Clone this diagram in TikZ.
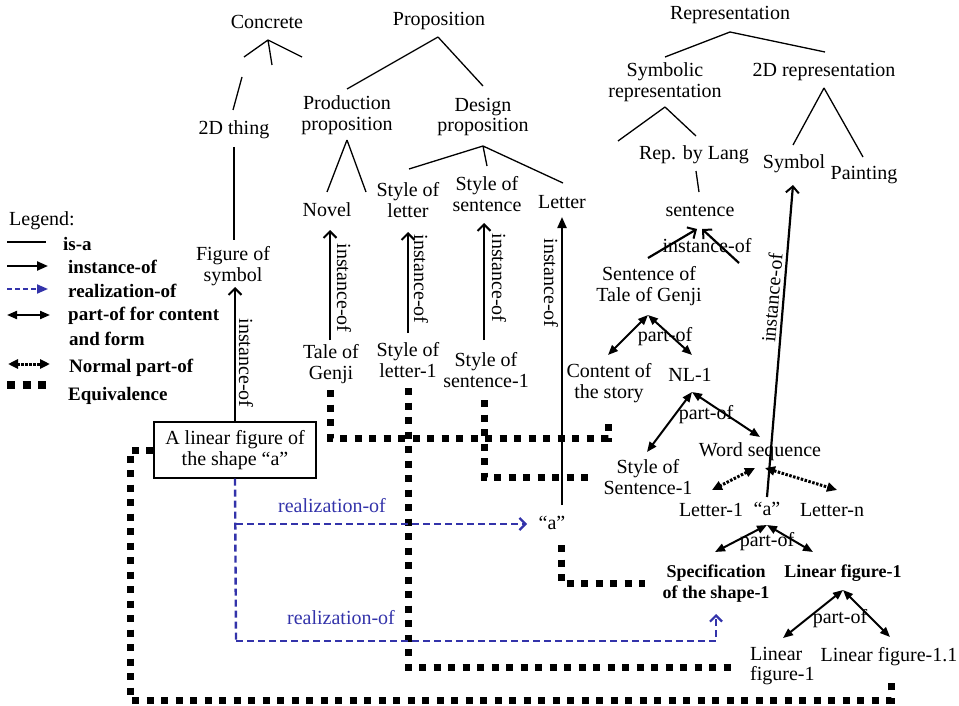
\documentclass[tikz,border=0pt]{standalone}
\usepackage{fontspec}
\setmainfont{Liberation Serif}
\usetikzlibrary{arrows.meta}
\definecolor{rblue}{RGB}{51,51,170}
\begin{document}
\begin{tikzpicture}[x=1pt,y=-1pt,
  every node/.style={font=\fontsize{20}{20.5}\selectfont, inner sep=0pt, align=center},
  boldtxt/.style={font=\fontsize{18}{21}\selectfont\bfseries},
  legtxt/.style={anchor=west, font=\fontsize{19}{19}\selectfont\bfseries},
  isa/.style={line width=1.3pt},
  inst/.style={line width=2.2pt, -{Straight Barb[length=6.5pt,width=13pt,line width=2pt]}},
  instf/.style={line width=2.2pt, -{Triangle[length=11pt,width=9pt]}},
  partof/.style={line width=2pt, {Triangle[length=10pt,width=8pt]}-{Triangle[length=10pt,width=8pt]}},
  npartof/.style={line width=3pt, dash pattern=on 2.5pt off 1.5pt, {Triangle[length=10pt,width=9pt]}-{Triangle[length=10pt,width=9pt]}},
  equiv/.style={line width=7pt, dash pattern=on 7pt off 7.5pt},
  bluedash/.style={rblue, line width=2.4pt, dash pattern=on 7pt off 4pt},
  real/.style={bluedash, -{Straight Barb[length=6pt,width=12pt,line width=2.2pt]}},
  rlabel/.style={text=rblue},
]
\useasboundingbox (0,0) rectangle (959,706);

% ---------- text nodes ----------
\node (concrete) at (267,22) {Concrete};
\node (prop) at (439,21) {Proposition};
\node (repr) at (730,15) {Representation};
\node (symrep) at (665,82) {Symbolic\\representation};
\node (tdrep) at (824,72) {2D representation};
\node (replang) at (694,155) {Rep. by Lang};
\node (symbol) at (794,164) {Symbol};
\node (painting) at (864,175) {Painting};
\node (sentence) at (700,211) {sentence};
\node (sotg) at (649,286) {Sentence of\\Tale of Genji};
\node (content) at (609,383) {Content of\\the story};
\node (nl) at (690,375) {NL-1};
\node (sos1) at (648,477) {Style of\\Sentence-1};
\node (words) at (760,452) {Word sequence};
\node (letter1) at (711,510) {Letter-1};
\node (aq) at (767,509) {“a”};
\node (lettern) at (832,510) {Letter-n};
\node[boldtxt] (spec) at (716,584) {Specification\\of the shape-1};
\node[boldtxt] (lf1) at (843,573) {Linear figure-1};
\node[align=left,anchor=west] (lfb) at (750,666) {Linear\\figure-1};
\node (lf11) at (889,657) {Linear figure-1.1};
\node (tdthing) at (234,130) {2D thing};
\node (figsym) at (233,266) {Figure of\\symbol};
\node (prodprop) at (347,115) {Production\\proposition};
\node (desprop) at (483,117) {Design\\proposition};
\node (novel) at (327,210) {Novel};
\node (styleletter) at (408,200) {Style of\\letter};
\node (stylesent) at (487,194) {Style of\\sentence};
\node (letter) at (562,202) {Letter};
\node (tog) at (331,364) {Tale of\\Genji};
\node (sl1) at (408,360) {Style of\\letter-1};
\node (ss1) at (486,370) {Style of\\sentence-1};
\node[draw, line width=1.3pt, minimum width=162pt, minimum height=56pt] (box) at (235,450) {A linear figure of\\the shape “a”};
\node (amid) at (552,523) {“a”};

% ---------- legend ----------
\node[anchor=west] (leg) at (9,221) {Legend:};
\node[legtxt] (lisa) at (63,244) {is-a};
\node[legtxt] (linst) at (68,267) {instance-of};
\node[legtxt] (lreal) at (68,291) {realization-of};
\node[legtxt] (lpart) at (68,316) {part-of for content};
\node[legtxt] (lpart2) at (69,339) {and form};
\node[legtxt] (lnpart) at (69,368) {Normal part-of};
\node[legtxt] (lequiv) at (68,396) {Equivalence};
\coordinate (la1) at (7,242); \coordinate (lb1) at (46,242);
\coordinate (la2) at (7,266); \coordinate (lb2) at (48,266);
\coordinate (la3) at (7,289); \coordinate (lb3) at (48,289);
\coordinate (la4) at (7,315); \coordinate (lb4) at (50,315);
\coordinate (la5) at (8,364); \coordinate (lb5) at (50,364);
\coordinate (la6) at (7,385); \coordinate (lb6) at (47,385);
\draw[isa] (la1) -- (lb1);
\draw[line width=2.2pt, -{Triangle[length=11pt,width=9pt]}] (la2) -- (lb2);
\draw[rblue, line width=2pt, dash pattern=on 5pt off 3pt, -{Triangle[length=11pt,width=9pt]}] (la3) -- (lb3);
\draw[partof] (la4) -- (lb4);
\draw[npartof] (la5) -- (lb5);
\draw[line width=8pt, dash pattern=on 8pt off 7.5pt] (la6) -- (lb6);

% ---------- is-a tree lines ----------
\coordinate (cA) at (268,40);
\coordinate (c1) at (244,57); \coordinate (c2) at (272,65); \coordinate (c3) at (302,57);
\draw[isa] (cA) -- (c1) (cA) -- (c2) (cA) -- (c3);
\coordinate (c4) at (242,77); \coordinate (c5) at (233,110);
\draw[isa] (c4) -- (c5);
\coordinate (t1) at (234,147); \coordinate (t2) at (234,240);
\draw[isa] (t1) -- (t2);
\coordinate (pA) at (438,37);
\coordinate (p1) at (347,89); \coordinate (p2) at (483,86);
\draw[isa] (pA) -- (p1) (pA) -- (p2);
\coordinate (ppA) at (347,140);
\coordinate (pp1) at (327,192); \coordinate (pp2) at (366,192);
\draw[isa] (ppA) -- (pp1) (ppA) -- (pp2);
\coordinate (dA) at (483,146);
\coordinate (d1) at (409,169); \coordinate (d2) at (487,166); \coordinate (d3) at (563,183);
\draw[isa] (dA) -- (d1) (dA) -- (d2) (dA) -- (d3);
\coordinate (rA) at (730,32);
\coordinate (r1) at (665,57); \coordinate (r2) at (825,52);
\draw[isa] (rA) -- (r1) (rA) -- (r2);
\coordinate (sA) at (665,107);
\coordinate (s1) at (618,141); \coordinate (s2) at (696,136);
\draw[isa] (sA) -- (s1) (sA) -- (s2);
\coordinate (lg1) at (696,171); \coordinate (lg2) at (699,192);
\draw[isa] (lg1) -- (lg2);
\coordinate (tA) at (824,88);
\coordinate (tr1) at (793,145); \coordinate (tr2) at (863,157);
\draw[isa] (tA) -- (tr1) (tA) -- (tr2);

% ---------- equivalence ----------
\coordinate (e1a) at (330,390); \coordinate (e1b) at (330,438);
\coordinate (e1c) at (608,438); \coordinate (e1d) at (608,418);
\draw[equiv] (e1a) -- (e1b) -- (e1c) -- (e1d);
\coordinate (e2a) at (408,388); \coordinate (e2b) at (408,667); \coordinate (e2c) at (737,667);
\draw[equiv] (e2a) -- (e2b) -- (e2c);
\coordinate (e3a) at (484,400); \coordinate (e3b) at (484,477); \coordinate (e3c) at (592,477);
\draw[equiv] (e3a) -- (e3b) -- (e3c);
\coordinate (e4a) at (561,545); \coordinate (e4b) at (561,583); \coordinate (e4c) at (645,583);
\draw[equiv] (e4a) -- (e4b) -- (e4c);
\coordinate (e5a) at (130,450); \coordinate (e5b) at (130,700);
\coordinate (e5c) at (891,700); \coordinate (e5d) at (891,677);
\draw[equiv] (box.west |- e5a) -- (e5a) -- (e5b) -- (e5c) -- (e5d);

% ---------- instance-of ----------
\coordinate (if1) at (235,287);
\draw[inst] (box.north) -- (if1);
\node[rotate=-90] at (246,363) {instance-of};
\coordinate (in1) at (330,340); \coordinate (in2) at (330,230);
\draw[inst] (in1) -- (in2);
\node[rotate=-90] at (344,288) {instance-of};
\coordinate (isl1) at (408,333); \coordinate (isl2) at (408,232);
\draw[inst] (isl1) -- (isl2);
\node[rotate=-90] at (421,279) {instance-of};
\coordinate (iss1) at (484,340); \coordinate (iss2) at (484,223);
\draw[inst] (iss1) -- (iss2);
\node[rotate=-90] at (499,278) {instance-of};
\coordinate (il1) at (562,505); \coordinate (il2) at (562,217);
\draw[instf] (il1) -- (il2);
\node[rotate=-90] at (551,283) {instance-of};
\coordinate (isy1) at (767,497); \coordinate (isy2) at (793,185);
\draw[inst] (isy1) -- (isy2);
\node[rotate=85] at (772,298) {instance-of};
\coordinate (ise1) at (648,258); \coordinate (ise2) at (697,229);
\coordinate (ise3) at (739,263); \coordinate (ise4) at (702,229);
\draw[inst] (ise1) -- (ise2);
\draw[inst] (ise3) -- (ise4);
\node at (707,246) {instance-of};

% ---------- part-of ----------
\coordinate (po1) at (648,315); \coordinate (po1l) at (608,355); \coordinate (po1r) at (692,355);
\draw[partof] (po1) -- (po1l); \draw[partof] (po1) -- (po1r);
\node at (665,337) {part-of};
\coordinate (po2) at (692,392); \coordinate (po2l) at (647,452); \coordinate (po2r) at (760,437);
\draw[partof] (po2) -- (po2l); \draw[partof] (po2) -- (po2r);
\node at (706,415) {part-of};
\coordinate (po3) at (767,525); \coordinate (po3l) at (715,552); \coordinate (po3r) at (813,552);
\draw[partof] (po3) -- (po3l); \draw[partof] (po3) -- (po3r);
\node at (767,542) {part-of};
\coordinate (po4) at (843,590); \coordinate (po4l) at (783,638); \coordinate (po4r) at (890,637);
\draw[partof] (po4) -- (po4l); \draw[partof] (po4) -- (po4r);
\node at (840,619) {part-of};
\coordinate (np1) at (755,468); \coordinate (np1l) at (712,490);
\coordinate (np2) at (765,468); \coordinate (np2r) at (837,490);
\draw[npartof] (np1) -- (np1l); \draw[npartof] (np2) -- (np2r);

% ---------- realization-of ----------
\coordinate (rb1) at (236,524); \coordinate (rb2) at (527,524);
\coordinate (rb3) at (236,641); \coordinate (rb4) at (716,641); \coordinate (rb5) at (716,614);
\draw[bluedash] (box.south) -- (rb3);
\draw[real] (rb1) -- (rb2);
\draw[real] (rb3) -- (rb4) -- (rb5);
\node[rlabel] at (332,506) {realization-of};
\node[rlabel] at (341,618) {realization-of};
\end{tikzpicture}
\end{document}
